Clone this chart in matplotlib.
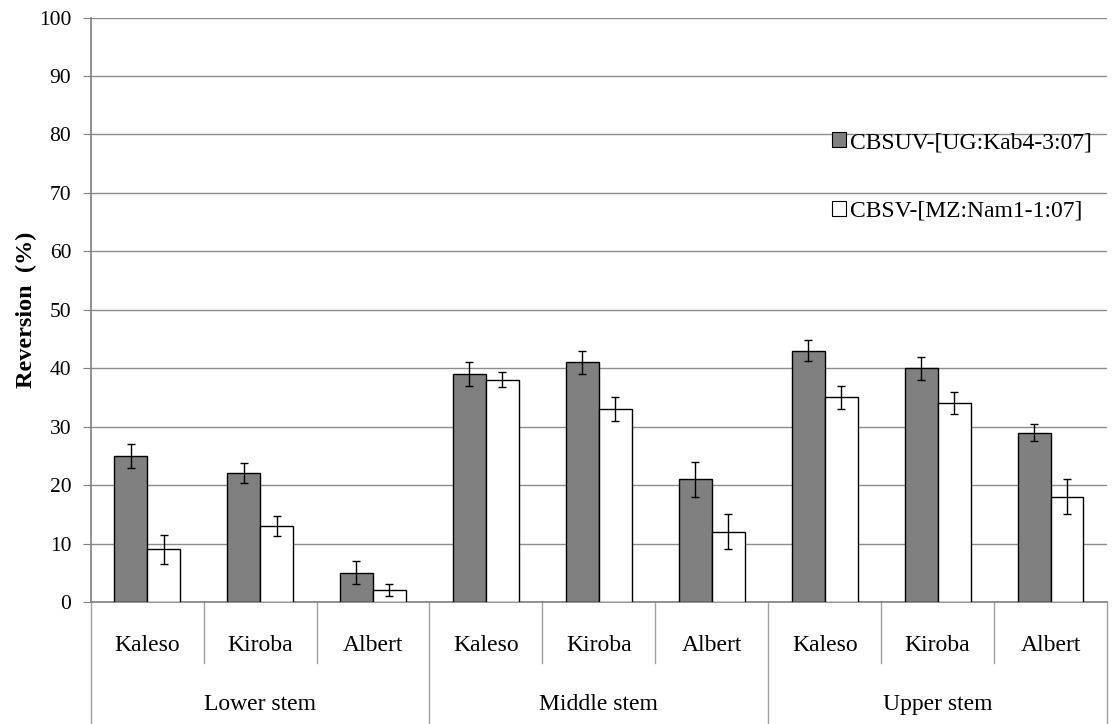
import matplotlib
matplotlib.use('Agg')
import matplotlib.pyplot as plt
from matplotlib.patches import Patch
import numpy as np

plt.rcParams['font.family'] = ['Liberation Serif', 'DejaVu Serif']

groups = ['Lower stem', 'Middle stem', 'Upper stem']
varieties = ['Kaleso', 'Kiroba', 'Albert']
cbsuv = [25, 22, 5, 39, 41, 21, 43, 40, 29]
cbsuv_err = [2, 1.7, 2, 2, 2, 3, 1.8, 2, 1.5]
cbsv = [9, 13, 2, 38, 33, 12, 35, 34, 18]
cbsv_err = [2.5, 1.7, 1, 1.3, 2, 3, 2, 1.9, 3]
labels = ['CBSUV-[UG:Kab4-3:07]', 'CBSV-[MZ:Nam1-1:07]']

fig = plt.figure(figsize=(11.14, 7.24), dpi=100)
ax = fig.add_axes([0.0814, 0.1685, 0.9937 - 0.0814, 0.9758 - 0.1685])

x = np.arange(len(cbsuv))
w = 0.292
ax.bar(x - w / 2, cbsuv, w, color='#808080', edgecolor='black', linewidth=1, zorder=3)
ax.bar(x + w / 2, cbsv, w, color='white', edgecolor='black', linewidth=1, zorder=3)
ax.errorbar(x - w / 2, cbsuv, yerr=cbsuv_err, fmt='none', ecolor='black', elinewidth=1, capsize=3, capthick=1, zorder=4)
ax.errorbar(x + w / 2, cbsv, yerr=cbsv_err, fmt='none', ecolor='black', elinewidth=1, capsize=3, capthick=1, zorder=4)

ax.set_xlim(-0.5, len(x) - 0.5)
ax.set_ylim(0, 100)
ax.set_yticks(range(0, 101, 10))
ax.tick_params(axis='y', length=6, color='#808080', labelsize=15.5, pad=8)
ax.set_xticks([])
ax.yaxis.grid(True, color='#8c8c8c', linewidth=1)
ax.set_axisbelow(True)
for s in ['top', 'right']:
    ax.spines[s].set_visible(False)
for s in ['left', 'bottom']:
    ax.spines[s].set_color('#808080')
    ax.spines[s].set_linewidth(1.2)

ax.set_ylabel('Reversion  (%)', fontsize=17.5, fontweight='bold', labelpad=1)

# category table under the axis
tr = ax.get_xaxis_transform()
for i, v in enumerate(x):
    ax.text(v, -0.0736, varieties[i % 3], transform=tr, ha='center', va='center', fontsize=17)
for i in range(1, len(x)):
    bottom = -0.209 if i % 3 == 0 else -0.104
    ax.plot([i - 0.5, i - 0.5], [0, bottom], transform=tr, color='#a0a0a0', linewidth=1, clip_on=False)
for e in [-0.5, len(x) - 0.5]:
    ax.plot([e, e], [0, -0.209], transform=tr, color='#a0a0a0', linewidth=1, clip_on=False)
for g, name in enumerate(groups):
    ax.text(3 * g + 1, -0.176, name, transform=tr, ha='center', va='center', fontsize=17)

handles = [Patch(facecolor='#808080', edgecolor='black', linewidth=0.8),
           Patch(facecolor='white', edgecolor='black', linewidth=0.8)]
ax.legend(handles, labels, loc='upper left', bbox_to_anchor=(0.72, 0.82), frameon=False,
          fontsize=17, handlelength=0.6, handleheight=0.6, handletextpad=0.15,
          labelspacing=2.0, borderaxespad=0)

fig.savefig('out.png', dpi=100)
